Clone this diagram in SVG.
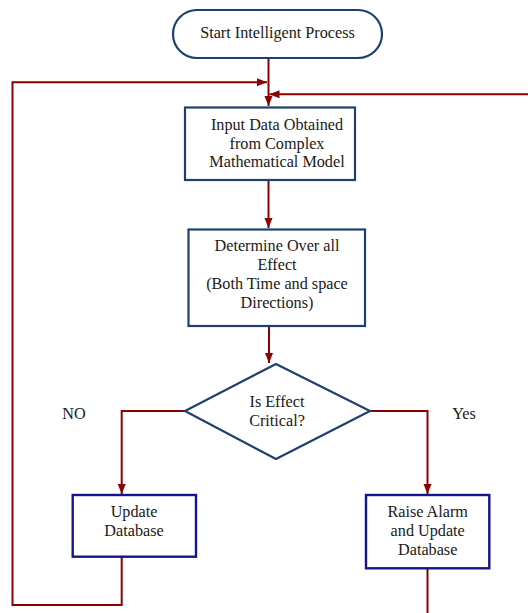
<svg xmlns="http://www.w3.org/2000/svg" width="528" height="613" viewBox="0 0 528 613">
<defs>
<marker id="arr" markerUnits="userSpaceOnUse" markerWidth="10" markerHeight="10" viewBox="0 0 10 10" refX="10" refY="5" orient="auto">
<path d="M0,1 L10,5 L0,9 Z" fill="#8B0000"/>
</marker>
</defs>
<style>
text{font-family:"Liberation Serif","Times New Roman",serif;font-size:16.2px;fill:#1a1a1a;text-anchor:middle}
.c{fill:none;stroke:#8B0000;stroke-width:2}
.n1{fill:#fff;stroke:#1F3F6E;stroke-width:2.2}
.n2{fill:#fff;stroke:#14148C;stroke-width:2.4}
</style>
<rect width="528" height="613" fill="#fff"/>
<g id="connectors">
<path class="c" d="M268.5,58 V106" marker-end="url(#arr)"/>
<path class="c" d="M528,94.3 H269.5" marker-end="url(#arr)"/>
<path class="c" d="M268.5,180 V228" marker-end="url(#arr)"/>
<path class="c" d="M269,326 V363" marker-end="url(#arr)"/>
<path class="c" d="M185,411 H121.7 V494" marker-end="url(#arr)"/>
<path class="c" d="M355,411 H427.5 V494" marker-end="url(#arr)"/>
<path class="c" d="M121.7,557 V605 H12.5 V82.3 H267" marker-end="url(#arr)"/>
<path class="c" d="M427.5,568 V613"/>
</g>
<g id="start">
<rect class="n1" x="173" y="10" width="209" height="48" rx="24" ry="24"/>
<text x="277.5" y="37.5">Start Intelligent Process</text>
</g>
<g id="input">
<rect class="n1" x="185" y="107.5" width="170" height="72.5"/>
<text x="277" y="130">Input Data Obtained</text>
<text x="277" y="148.5">from Complex</text>
<text x="277" y="167">Mathematical Model</text>
</g>
<g id="determine">
<rect class="n1" x="188.5" y="229.5" width="176.5" height="96.5"/>
<text x="277" y="250.5">Determine Over all</text>
<text x="277" y="269.5">Effect</text>
<text x="277" y="288.5">(Both Time and space</text>
<text x="277" y="307.5">Directions)</text>
</g>
<g id="decision">
<polygon class="n1" points="276,364 370,411 276,459 185,411"/>
<text x="277" y="406.5">Is Effect</text>
<text x="277" y="426">Critical?</text>
</g>
<g id="labels">
<text x="74" y="418.5">NO</text>
<text x="464" y="418.5">Yes</text>
</g>
<g id="update">
<rect class="n2" x="72.7" y="495" width="123.3" height="61.7"/>
<text x="134" y="517">Update</text>
<text x="134" y="536">Database</text>
</g>
<g id="raise">
<rect class="n2" x="366" y="495" width="123.3" height="73.3"/>
<text x="427.7" y="517">Raise Alarm</text>
<text x="427.7" y="536">and Update</text>
<text x="427.7" y="554.5">Database</text>
</g>
</svg>
